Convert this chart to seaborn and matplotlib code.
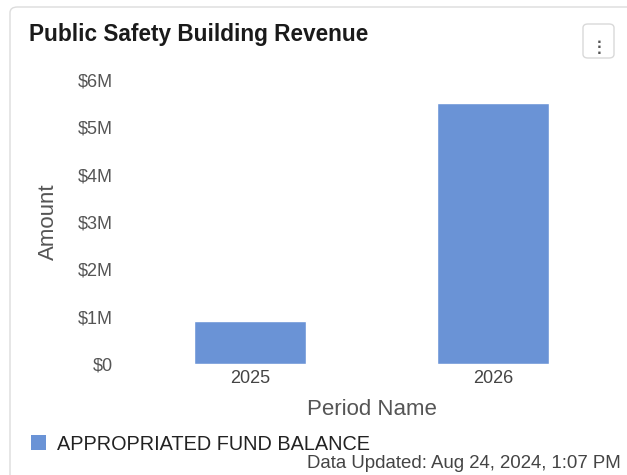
import matplotlib
matplotlib.use("Agg")
import matplotlib.pyplot as plt
from matplotlib.patches import FancyBboxPatch, Patch
from matplotlib.ticker import FuncFormatter
import seaborn as sns
import pandas as pd

# Revenue by budget period
periods = ["2025", "2026"]
amounts = [910000, 5520000]
series_name = "APPROPRIATED FUND BALANCE"
y_ticks = [0, 1e6, 2e6, 3e6, 4e6, 5e6, 6e6]

bar_color = "#6a93d6"

sns.set_theme(style="white")
plt.rcParams["font.family"] = ["Liberation Sans", "DejaVu Sans"]

W, H = 627, 475
fig = plt.figure(figsize=(W / 100, H / 100), dpi=100)
fig.patch.set_facecolor("white")

# Card outline
card = FancyBboxPatch((10 / W, -0.1), 1.2, 1 - 7 / H + 0.1,
                      boxstyle="round,pad=0,rounding_size=0.012",
                      transform=fig.transFigure, facecolor="none",
                      edgecolor="#dcdcdc", linewidth=1.0, zorder=-1)
fig.patches.append(card)

# Menu button
btn = FancyBboxPatch((583 / W, 1 - 58 / H), 31 / W, 34 / H,
                     boxstyle="round,pad=0,rounding_size=0.008",
                     transform=fig.transFigure, facecolor="none",
                     edgecolor="#d9d9d9", linewidth=1.0, zorder=1)
fig.patches.append(btn)
for yy in (41.5, 47, 52.5):
    fig.text(599 / W, 1 - yy / H, "\u25A0", fontsize=3.4, color="#555555",
             ha="center", va="center")

fig.text(29 / W, 1 - 35 / H, "Public Safety Building Revenue",
         fontsize=16.3, fontweight="bold", color="#1a1a1a",
         ha="left", va="center")

df = pd.DataFrame({"Period Name": periods, "Amount": amounts})

ax = fig.add_axes([129 / W, 111 / H, 485 / W, 284 / H])
sns.barplot(data=df, x="Period Name", y="Amount", color=bar_color,
            width=0.46, saturation=1, ax=ax)
ax.set_xlim(-0.5, 1.5)
ax.set_ylim(0, 6e6)
ax.set_yticks(y_ticks)
ax.yaxis.set_major_formatter(
    FuncFormatter(lambda v, _: "$0" if v == 0 else f"${v / 1e6:.0f}M"))
for s in ax.spines.values():
    s.set_visible(False)
ax.grid(False)
ax.set_facecolor("none")
ax.tick_params(axis="y", length=0, pad=11.5, labelsize=13, labelcolor="#555555")
ax.tick_params(axis="x", length=0, pad=4.5, labelsize=13, labelcolor="#444444")
ax.set_xlabel("Period Name", fontsize=16, color="#555555", labelpad=8.5)
ax.set_ylabel("Amount", fontsize=16, color="#555555", labelpad=14)

fig.legend(handles=[Patch(facecolor=bar_color, edgecolor="none")],
           labels=[series_name], loc="center left",
           bbox_to_anchor=(31 / W, 1 - 444 / H), frameon=False,
           fontsize=14.3, handlelength=0.75, handleheight=0.75,
           handletextpad=0.55, borderpad=0, borderaxespad=0,
           labelcolor="#222222")

fig.text(621 / W, 1 - 464 / H, "Data Updated: Aug 24, 2024, 1:07 PM",
         fontsize=13.4, color="#444444", ha="right", va="center")

fig.savefig("out.png", dpi=100)
